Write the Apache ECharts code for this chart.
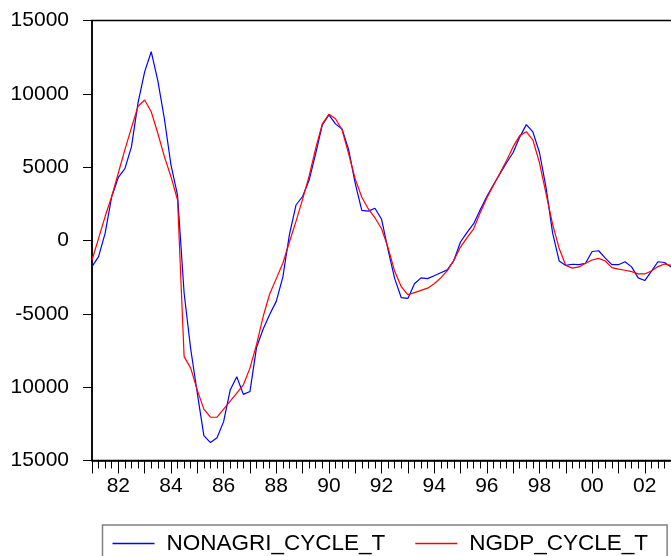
<!DOCTYPE html>
<html>
<head>
<meta charset="utf-8">
<script src="https://cdn.jsdelivr.net/npm/echarts@6/dist/echarts.min.js"></script>
<style>
html,body{margin:0;padding:0;background:#fff;}
#chart{width:671px;height:556px;}
</style>
</head>
<body>
<div id="chart"></div>
<script>
// Quarterly observations starting 1981Q1
const startYear = 1981;
const seriesNames = ['NONAGRI_CYCLE_T', 'NGDP_CYCLE_T'];
const nonagri = [
  -1780, -1100, 500, 3000, 4300, 4900, 6400, 9400, 11500, 12870,
  10900, 8300, 5150, 3100, -3600, -7400, -10400, -13300, -13780, -13450,
  -12350, -10200, -9290, -10490, -10300, -7300, -6050, -5050, -4150, -2500,
  400, 2420, 3000, 4120, 5940, 7880, 8560, 7950, 7600, 6200,
  3900, 2050, 2000, 2200, 1450, -650, -2600, -3900, -3950, -2950,
  -2550, -2600, -2400, -2200, -2000, -1350, -100, 550, 1150, 2100,
  3000, 3800, 4550, 5300, 6000, 7050, 7900, 7400, 6000, 3600,
  500, -1400, -1700, -1620, -1650, -1550, -750, -700, -1200, -1650,
  -1650, -1450, -1800, -2550, -2730, -2100, -1450, -1500, -1800
];
const ngdp = [
  -1330, 150, 1650, 3000, 4600, 6200, 7700, 9150, 9580, 8780,
  7310, 5720, 4350, 2760, -7920, -8700, -10200, -11500, -12050, -12050,
  -11500, -10950, -10400, -9850, -8700, -7100, -5200, -3650, -2600, -1550,
  -100, 1300, 2800, 4400, 6300, 7950, 8600, 8300, 7550, 5900,
  4200, 2950, 2150, 1550, 800, -500, -2100, -3150, -3700, -3550,
  -3400, -3250, -2950, -2550, -2050, -1350, -450, 200, 800, 1900,
  2900, 3750, 4600, 5450, 6400, 7150, 7420, 6850, 5300, 3200,
  1100, -550, -1700, -1880, -1800, -1550, -1330, -1220, -1400, -1850,
  -1950, -2030, -2120, -2280, -2280, -2080, -1780, -1600, -1700
];
// Y tick labels as printed in the picture
const yTickValues = [15000, 10000, 5000, 0, -5000, -10000, -15000];
const yTickLabels = ['15000', '10000', '5000', '0', '-5000', '10000', '15000'];
// X tick labels (every second year, two digits)
const xLabelYears = [1982, 1984, 1986, 1988, 1990, 1992, 1994, 1996, 1998, 2000, 2002];

const FONT = '"Liberation Sans", Arial, sans-serif';

function toPairs(arr) {
  return arr.map((v, i) => [startYear + i / 4, v]);
}

const chart = echarts.init(document.getElementById('chart'), null, {renderer: 'canvas'});
chart.setOption({
  animation: false,
  backgroundColor: '#ffffff',
  grid: {
    left: 92, top: 20.5, height: 440, width: 605.4,
    outerBoundsMode: 'none', containLabel: false,
    show: true, borderColor: '#000', borderWidth: 1.5, backgroundColor: 'transparent'
  },
  legend: {
    data: seriesNames,
    left: 102.5, top: 525,
    orient: 'horizontal',
    icon: 'rect',
    itemWidth: 42, itemHeight: 1.5, itemGap: 30,
    padding: [7, 19, 26, 10],
    borderColor: '#808080', borderWidth: 1.5,
    textStyle: {fontFamily: FONT, fontSize: 22.5, color: '#000', padding: [0, 0, 0, 7]}
  },
  xAxis: {
    type: 'value', min: 1981, max: 2004, interval: 1,
    axisLine: {show: true, onZero: false, lineStyle: {color: '#000', width: 1.5}},
    axisTick: {show: true, inside: false, length: 13, lineStyle: {color: '#000', width: 1}},
    minorTick: {show: true, splitNumber: 4, length: 8, lineStyle: {color: '#000', width: 1}},
    splitLine: {show: false}, minorSplitLine: {show: false},
    axisLabel: {
      fontFamily: FONT, fontSize: 21, color: '#000', margin: 15,
      formatter: function (v) {
        const y = Math.round(v);
        return xLabelYears.indexOf(y) >= 0 ? String(y).slice(2) : '';
      }
    }
  },
  yAxis: {
    type: 'value', min: -15000, max: 15000, interval: 5000,
    axisLine: {show: true, onZero: false, lineStyle: {color: '#000', width: 1.5}},
    axisTick: {show: true, inside: false, length: 9, lineStyle: {color: '#000', width: 1}},
    splitLine: {show: false},
    axisLabel: {
      fontFamily: FONT, fontSize: 21, color: '#000', margin: 23,
      padding: [0, 0, 6, 0],
      formatter: function (v) {
        const i = yTickValues.indexOf(v);
        return i >= 0 ? yTickLabels[i] : '';
      }
    }
  },
  series: [
    {
      name: seriesNames[0], type: 'line', data: toPairs(nonagri),
      showSymbol: false, symbol: 'none', color: '#0000ff',
      lineStyle: {color: '#0000ff', width: 1.2}, z: 2
    },
    {
      name: seriesNames[1], type: 'line', data: toPairs(ngdp),
      showSymbol: false, symbol: 'none', color: '#ff0000',
      lineStyle: {color: '#ff0000', width: 1.2}, z: 3
    }
  ]
});
</script>
</body>
</html>
